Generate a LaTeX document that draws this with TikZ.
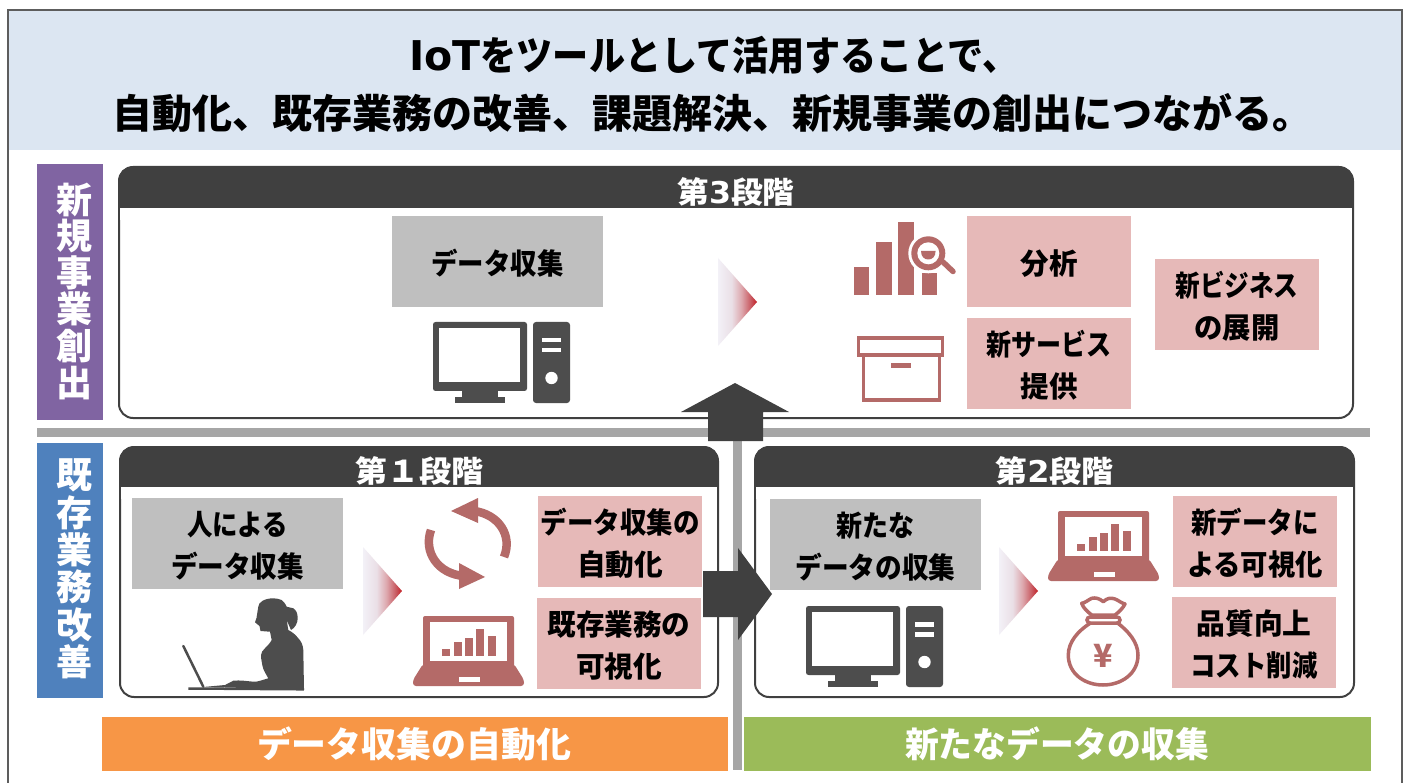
\documentclass[tikz,border=0pt]{standalone}
\usepackage{graphicx}
\usepackage{fontspec}
\setmainfont{Noto Sans CJK JP}
\newfontfamily\lat{DejaVu Sans}
\usetikzlibrary{shapes.geometric}
\definecolor{hdrc}{HTML}{404040}
\definecolor{iconc}{HTML}{4D4D4D}
\definecolor{redic}{HTML}{B46A68}
\definecolor{grayb}{HTML}{BFBFBF}
\definecolor{pinkb}{HTML}{E6B9B8}
\definecolor{topb}{HTML}{DCE6F2}
\definecolor{linec}{HTML}{A6A6A6}
\definecolor{purp}{HTML}{8064A2}
\definecolor{blu}{HTML}{4F81BD}
\definecolor{oran}{HTML}{F79646}
\definecolor{gree}{HTML}{9BBB59}
\definecolor{cha}{HTML}{F3F1F7}
\definecolor{chb}{HTML}{EADFE6}
\definecolor{chc}{HTML}{DDA8AE}
\definecolor{chd}{HTML}{C8575E}
\definecolor{che}{HTML}{C41E24}
\pgfdeclarehorizontalshading{chev}{100bp}{
  color(0bp)=(cha); color(25bp)=(cha); color(42.5bp)=(chb);
  color(55bp)=(chc); color(67.5bp)=(chd); color(75bp)=(che); color(100bp)=(che)}
\newcommand{\fw}[2]{\resizebox{#1pt}{\height}{#2}}
\tikzset{
  x=1pt,y=-1pt,
  txt/.style={font=\bfseries\fontsize{29}{42}\selectfont,align=center,text=black,inner sep=0pt},
  graybox/.style={fill=grayb,inner sep=0pt,minimum width=211pt,minimum height=91pt},
  pinkbox/.style={fill=pinkb,inner sep=0pt,minimum width=164pt,minimum height=91pt},
  sidebox/.style={inner sep=0pt,minimum width=66pt,minimum height=256pt},
  sidetext/.style={font=\bfseries\fontsize{36}{36.6}\selectfont,align=center,text=white,inner sep=0pt},
  barbox/.style={inner sep=0pt,minimum width=626pt,minimum height=54pt},
  bartext/.style={font=\bfseries\fontsize{35}{40}\selectfont,text=white,inner sep=0pt},
  hdrtext/.style={font=\bfseries\fontsize{30}{30}\selectfont,text=white,inner sep=0pt},
  titletext/.style={font=\bfseries\fontsize{40}{58}\selectfont,text=black,inner sep=0pt},
}
\newcommand{\tbox}[6]{% style name cx cy text
  \node[#1] (#2) at (#3,#4) {};
  \node[txt] (#2t) at (#3,#4+2) {#5};
}
\newcommand{\panelbox}[7]{%
  \path[fill=white,draw=hdrc,line width=2pt,rounded corners=14pt] (#2,#3) rectangle (#4,#5);
  \fill[hdrc,rounded corners=12pt] (#2,#3) rectangle (#4,#6+10);
  \fill[white] (#2+1,#6) rectangle (#4-1,#6+12);
  \fill[hdrc] (#2,#3+14) rectangle (#4,#6);
  \node[hdrtext] (#1) at ({(#2+#4)/2},{(#3+#6)/2+4}) {#7};
}
\newcommand{\chevron}[2]{%
  \begin{scope}[shift={(#1,#2)}]
    \shade[shading=chev] (-39,-44) -- (0,0) -- (-39,44) -- cycle;
  \end{scope}}
\newcommand{\pcicon}[2]{%
  \begin{scope}[shift={(#1,#2)}]
    \fill[iconc,rounded corners=2.5pt] (433,322) rectangle (527,391);
    \fill[white] (439,328) rectangle (520,382);
    \fill[iconc] (462,390) rectangle (498,398);
    \fill[iconc] (455,397) rectangle (505,403);
    \fill[iconc,rounded corners=3pt] (533,322) rectangle (570,403);
    \fill[white] (542,338) rectangle (561,342.5);
    \fill[white] (542,348) rectangle (561,352.5);
    \fill[white] (551.5,378) circle (6.2);
  \end{scope}}
\newcommand{\laptopicon}[2]{%
  \begin{scope}[shift={(#1,#2)}]
    \fill[redic,rounded corners=2pt] (423,616) rectangle (514,670);
    \fill[redic,rounded corners=3pt] (423,664) -- (514,664) -- (524,680) -- (524,686) -- (413,686) -- (413,680) -- cycle;
    \fill[white] (430,622) rectangle (507,661);
    \fill[white] (459,677) rectangle (480,681.5);
    \fill[redic] (442,649) rectangle (450,656);
    \fill[redic] (454,642) rectangle (462,656);
    \fill[redic] (465,638) rectangle (473,656);
    \fill[redic] (476,629) rectangle (484,656);
    \fill[redic] (488,636) rectangle (496,656);
  \end{scope}}
\begin{document}
\begin{tikzpicture}
\useasboundingbox (0,0) rectangle (1408,783);
\fill[white] (0,0) rectangle (1408,783);
% title band and frame
\fill[topb] (9,11) rectangle (1401,150);
\draw[draw=hdrc!85!white,line width=2pt] (8,790) -- (8,10) -- (1402,10) -- (1402,790);
\node[titletext] (title1) at (714,55.5) {{\lat\fontsize{41}{58}\selectfont\bfseries IoT}\fw{538}{をツールとして活用することで、}};
\node[titletext] (title2) at (712,113.5) {自動化、既存業務の改善、課題解決、新規事業の創出につながる。};
% side labels
\node[sidebox,fill=purp] (side3) at (70,292) {};
\node[sidetext] (side3t) at (74.5,291) {新\\規\\事\\業\\創\\出};
\node[sidebox,fill=blu,minimum height=255pt] (side12) at (70,570.5) {};
\node[sidetext,font=\bfseries\fontsize{36}{37.4}\selectfont] (side12t) at (74.5,569) {既\\存\\業\\務\\改\\善};
% grid lines
\fill[linec] (37,428) rectangle (1370,437);
\fill[linec] (733,437) rectangle (742,770);
% panels
\panelbox{h3}{119}{167}{1353}{418}{208}{\fw{117}{第{\lat\bfseries 3}段階}}
\panelbox{h1}{120}{447}{718}{697}{487}{\fw{128}{第１段階}}
\panelbox{h2}{755}{447}{1354}{697}{487}{\fw{118}{第{\lat\bfseries 2}段階}}
% panel 3
\tbox{graybox}{g3}{497.5}{261.5}{\fw{132}{データ収集}}{}
\pcicon{0}{0}
\chevron{757}{302}
\begin{scope}
  \fill[redic] (854,266.7) rectangle (869.3,295);
  \fill[redic] (875.7,241.7) rectangle (891.7,295);
  \fill[redic] (898.3,221.7) rectangle (914.3,295);
  \fill[redic] (921.7,273.3) rectangle (937.3,295);
  \fill[white] (928.3,253.3) circle (20);
  \fill[redic] (928.3,253.3) circle (17);
  \fill[white] (928.3,253.3) circle (11);
  \fill[redic] (921,251) -- (935.6,251) .. controls (935.6,257) and (932,259.5) .. (928.3,259.5) .. controls (924.6,259.5) and (921,257) .. (921,251) -- cycle;
  \draw[redic,line width=5.5pt,line cap=round] (943,262) -- (953,271.5);
\end{scope}
\begin{scope}
  \draw[redic,line width=3.5pt] (858.5,338) rectangle (942.5,355);
  \draw[redic,line width=3.5pt] (863.5,355) -- (863.5,400) -- (939.5,400) -- (939.5,355);
  \fill[redic] (890.5,363) rectangle (911,368);
\end{scope}
\tbox{pinkbox}{p31}{1049}{261.5}{\fw{57}{分析}}{}
\tbox{pinkbox}{p32}{1049}{363.5}{\fw{125}{新サービス}\\\fw{57}{提供}}{}
\tbox{pinkbox}{p33}{1237}{304.5}{\fw{123}{新ビジネス}\\\fw{85}{の展開}}{}
% panel 1
\tbox{graybox}{g1}{237.5}{543.5}{\fw{101}{人による}\\\fw{133}{データ収集}}{}
\begin{scope}
  \draw[iconc,line width=2.5pt,line cap=round] (183.3,646) -- (203.3,686.7);
  \draw[iconc,line width=2.5pt] (188.3,688.5) -- (304,689.3);
  \fill[iconc] (273.3,598.3) .. controls (265,598.3) and (258.3,602) .. (258.3,606.7)
    -- (256.5,618) -- (255,622.3) -- (259.5,626) -- (260.5,631) -- (270,631.7)
    -- (271.7,640) .. controls (268,647) and (261,650) .. (261,655)
    .. controls (261,660) and (262,662) .. (262.3,665)
    .. controls (263,670) and (266,674) .. (268.3,678.3)
    .. controls (262,680) and (258,682) .. (253.3,681.7)
    .. controls (246,681) and (240,680) .. (233.3,680.7)
    .. controls (230,682) and (228,684) .. (225,685) -- (203.3,687) -- (304,689.3)
    -- (303.3,650) .. controls (303,645) and (301,641) .. (298.3,638.3)
    .. controls (295,634) and (292,632) .. (288.3,630)
    -- (286.7,620) -- (291,630) .. controls (295,628) and (297.7,623) .. (297.7,618.3)
    .. controls (297.7,613) and (296,610) .. (293.3,608.3)
    -- (286.7,606.7) .. controls (285,603) and (283,601) .. (281.7,600)
    .. controls (279,599) and (276,598.3) .. (273.3,598.3) -- cycle;
\end{scope}
\chevron{402}{591}
\begin{scope}
  \draw[redic,line width=8.5pt] (504,557) .. controls (513,535) and (498,514) .. (474,511);
  \fill[redic] (451,511) -- (478,498) -- (478,523) -- cycle;
  \draw[redic,line width=8.5pt] (431,530) .. controls (423,552) and (438,574) .. (464,576);
  \fill[redic] (485,577) -- (459,563) -- (459,589) -- cycle;
\end{scope}
\laptopicon{0}{0}
\tbox{pinkbox}{p11}{620}{541.5}{\fw{159}{データ収集の}\\\fw{86}{自動化}}{}
\tbox{pinkbox}{p12}{619}{643.5}{\fw{143}{既存業務の}\\\fw{86}{可視化}}{}
% panel 2
\tbox{graybox}{g2}{875.5}{544.5}{\fw{78}{新たな}\\\fw{160}{データの収集}}{}
\pcicon{373}{284}
\chevron{1038}{591}
\laptopicon{635}{-105}
\begin{scope}
  \draw[redic,line width=3.5pt,line join=round] (1103.3,601.7)
    .. controls (1099,598) and (1095,597.5) .. (1091.7,598.3)
    .. controls (1088,600) and (1085,603) .. (1081.7,603.3)
    .. controls (1083,608) and (1088,612) .. (1091.7,615)
    -- (1115,615)
    .. controls (1119,612) and (1123,608) .. (1125,604)
    .. controls (1121,603) and (1118,600) .. (1115,599)
    .. controls (1111,597.5) and (1107,598) .. (1103.3,601.7) -- cycle;
  \draw[redic,line width=3.5pt,rounded corners=3pt] (1087,617) rectangle (1120,623);
  \draw[redic,line width=3.5pt] (1090,623.3) .. controls (1078,631) and (1068.3,642) .. (1068.3,655)
    .. controls (1068.3,674) and (1085,685) .. (1103,685)
    .. controls (1121,685) and (1138,674) .. (1138,655)
    .. controls (1138,642) and (1128,631) .. (1118,623.3);
  \node[font=\bfseries\fontsize{32}{32}\selectfont,text=redic,inner sep=0pt] (yen) at (1103,656) {¥};
\end{scope}
\tbox{pinkbox}{p21}{1255}{541.5}{\fw{127}{新データに}\\\fw{136}{よる可視化}}{}
\tbox{pinkbox}{p22}{1254}{642.5}{\fw{115}{品質向上}\\\fw{127}{コスト削減}}{}
% bars
\node[barbox,fill=oran] (b1) at (415,744) {};
\node[bartext] (b1t) at (414,744) {\fw{314}{データ収集の自動化}};
\node[barbox,fill=gree,minimum width=627pt] (b2) at (1057.5,744) {};
\node[bartext] (b2t) at (1057,744) {\fw{304}{新たなデータの収集}};
% block arrows
\fill[hdrc] (735,383) -- (789,412) -- (763,412) -- (763,441) -- (708,441) -- (708,412) -- (681,412) -- cycle;
\fill[hdrc] (703,571) -- (738,571) -- (738,548) -- (772,594) -- (738,640) -- (738,617) -- (703,617) -- cycle;
\end{tikzpicture}
\end{document}
